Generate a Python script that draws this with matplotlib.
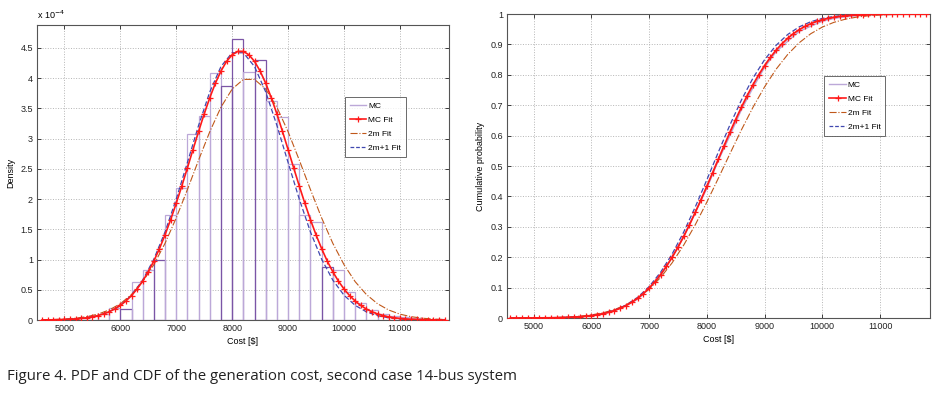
import numpy as np
import matplotlib
matplotlib.use('Agg')
import matplotlib.pyplot as plt
from matplotlib.lines import Line2D

plt.rcParams['font.family'] = ['Liberation Sans', 'DejaVu Sans']

# histogram of MC samples (density, x1e-4), bins of 200 $ starting at 4600
bin_left = np.arange(4600, 11800, 200)
mc_density = [0.005, 0.01, 0.02, 0.04, 0.07, 0.1, 0.2, 0.18, 0.63, 0.83, 1.0, 1.73,
              2.18, 3.07, 3.38, 4.08, 3.87, 4.65, 4.10, 4.30, 3.62, 3.36, 2.58, 1.74,
              1.62, 0.87, 0.82, 0.47, 0.28, 0.17, 0.1, 0.07, 0.05, 0.03, 0.02, 0.01]
dark_bins = [7, 10, 16, 17, 19, 25]

# fitted PDFs (x1e-4)
x_fine = np.arange(4600, 11900, 100)
mc_fit_pdf = [0.0016, 0.0024, 0.0037, 0.0057, 0.0085, 0.0125, 0.0183, 0.0264, 0.0376, 0.0529,
              0.0734, 0.1007, 0.1363, 0.182, 0.240, 0.314, 0.404, 0.513, 0.644, 0.798,
              0.976, 1.181, 1.409, 1.660, 1.931, 2.218, 2.517, 2.820, 3.120, 3.409,
              3.677, 3.916, 4.119, 4.278, 4.387, 4.443, 4.443, 4.387, 4.278, 4.119,
              3.916, 3.677, 3.409, 3.120, 2.820, 2.517, 2.218, 1.931, 1.660, 1.409,
              1.181, 0.976, 0.798, 0.644, 0.513, 0.404, 0.314, 0.240, 0.182, 0.136,
              0.101, 0.073, 0.053, 0.038, 0.026, 0.018, 0.0125, 0.0085, 0.0057, 0.0037,
              0.0024, 0.0016, 0.0010]

x_coarse = np.arange(4600, 11900, 200)
fit_2m_pdf = [0.0037, 0.0077, 0.0155, 0.030, 0.055, 0.097, 0.165, 0.269, 0.422, 0.634,
              0.916, 1.269, 1.689, 2.158, 2.646, 3.115, 3.521, 3.820, 3.980, 3.980,
              3.820, 3.521, 3.115, 2.646, 2.158, 1.689, 1.269, 0.916, 0.634, 0.422,
              0.269, 0.165, 0.097, 0.055, 0.030, 0.0155, 0.0077]
fit_2m1_pdf = [0.0014, 0.0033, 0.0078, 0.0172, 0.0361, 0.0716, 0.135, 0.242, 0.410, 0.660,
               1.007, 1.457, 2.001, 2.606, 3.220, 3.773, 4.193, 4.421, 4.421, 4.193,
               3.773, 3.220, 2.606, 2.001, 1.457, 1.007, 0.660, 0.410, 0.242, 0.135,
               0.0716, 0.0361, 0.0172, 0.0078, 0.0033, 0.0014, 0.0005]

# fitted CDFs
mc_fit_cdf = [0.0, 0.0, 0.0001, 0.0001, 0.0002, 0.0003, 0.0005, 0.0007, 0.0010, 0.0015,
              0.0021, 0.0030, 0.0041, 0.0057, 0.0079, 0.0106, 0.0142, 0.0188, 0.0246, 0.0319,
              0.0408, 0.0516, 0.0647, 0.0801, 0.0982, 0.1190, 0.1429, 0.1698, 0.1997, 0.2326,
              0.2683, 0.3066, 0.3471, 0.3894, 0.4331, 0.4776, 0.5224, 0.5669, 0.6106, 0.6529,
              0.6934, 0.7317, 0.7674, 0.8003, 0.8302, 0.8571, 0.8810, 0.9018, 0.9199, 0.9353,
              0.9484, 0.9592, 0.9681, 0.9754, 0.9812, 0.9858, 0.9894, 0.9921, 0.9943, 0.9959,
              0.9970, 0.9979, 0.9985, 0.9990, 0.9993, 0.9995, 0.9997, 0.9998, 0.9999, 0.9999,
              1.0, 1.0, 1.0]
fit_2m_cdf = [0.0001, 0.0002, 0.0004, 0.0009, 0.0017, 0.0032, 0.0058, 0.0101, 0.0170, 0.0275,
              0.0430, 0.0649, 0.0946, 0.1333, 0.1816, 0.2398, 0.3067, 0.3809, 0.4598, 0.5402,
              0.6191, 0.6932, 0.7602, 0.8184, 0.8667, 0.9054, 0.9351, 0.9570, 0.9725, 0.9830,
              0.9899, 0.9942, 0.9968, 0.9983, 0.9991, 0.9996, 0.9998]
fit_2m1_cdf = [0.0001, 0.0001, 0.0002, 0.0004, 0.0010, 0.0020, 0.0041, 0.0079, 0.0145, 0.0254,
               0.0423, 0.0675, 0.1030, 0.1505, 0.2106, 0.2827, 0.3651, 0.4543, 0.5457, 0.6349,
               0.7173, 0.7894, 0.8495, 0.8970, 0.9325, 0.9577, 0.9746, 0.9855, 0.9921, 0.9959,
               0.9980, 0.9990, 0.9996, 0.9998, 0.9999, 1.0, 1.0]

xticks = [5000, 6000, 7000, 8000, 9000, 10000, 11000]

c_mc = '#bca8d8'
c_mc_dark = '#7b55a6'
c_red = '#ff1a1a'
c_brown = '#c0581a'
c_blue = '#4048b0'

fig = plt.figure(figsize=(9.41, 3.97), dpi=100)
ax1 = fig.add_axes([37 / 941, 1 - 320 / 397, 412 / 941, 295 / 397])
ax2 = fig.add_axes([507 / 941, 1 - 318 / 397, 423 / 941, 304 / 397])


def style(ax):
    ax.set_xticks(xticks)
    ax.tick_params(direction='in', length=3, width=0.6, labelsize=6.5, top=True, right=True,
                   pad=3, colors='#222222')
    ax.grid(True, linestyle=':', color='#b5b5b5', linewidth=0.7)
    for s in ax.spines.values():
        s.set_color('#555555')
        s.set_linewidth(0.8)
    ax.set_xlabel('Cost [$]', fontsize=6.5, labelpad=3)


def add_legend(ax, anchor):
    handles = [Line2D([], [], color=c_mc, lw=1.0),
               Line2D([], [], color=c_red, lw=1.2, marker='+', ms=4, mew=0.9),
               Line2D([], [], color=c_brown, lw=0.8, ls='-.'),
               Line2D([], [], color=c_blue, lw=0.9, ls='--', dashes=(3, 1.5))]
    leg = ax.legend(handles, ['MC', 'MC Fit', '2m Fit', '2m+1 Fit'], loc='upper left',
                    bbox_to_anchor=anchor, fontsize=6, frameon=True, fancybox=False,
                    edgecolor='#444444', handlelength=2.0, borderpad=0.6, labelspacing=0.75,
                    handletextpad=0.2, borderaxespad=0)
    leg.get_frame().set_linewidth(0.7)


# left: PDF
edge_cols = [c_mc_dark if i in dark_bins else c_mc for i in range(len(bin_left))]
ax1.bar(bin_left, mc_density, width=200, align='edge', fill=False, edgecolor=edge_cols,
        linewidth=0.9, zorder=2)
ax1.plot(x_fine, mc_fit_pdf, color=c_red, lw=1.2, marker='+', ms=4, mew=0.9, zorder=4)
ax1.plot(x_coarse, fit_2m_pdf, color=c_brown, lw=0.8, ls='-.', zorder=3)
ax1.plot(x_coarse, fit_2m1_pdf, color=c_blue, lw=0.9, ls='--', dashes=(4, 2), zorder=3)
ax1.set_xlim(4510, 11878)
ax1.set_ylim(0, 4.88)
ax1.set_yticks(np.arange(0, 5.0, 0.5))
ax1.set_yticklabels(['0', '0.5', '1', '1.5', '2', '2.5', '3', '3.5', '4', '4.5'])
style(ax1)
ax1.set_ylabel('Density', fontsize=6.5, labelpad=4)
ax1.text(0, 1.012, r'x 10$^{-4}$', transform=ax1.transAxes, fontsize=6.5, va='bottom', ha='left')
add_legend(ax1, (0.747, 0.755))

# right: CDF (empirical MC curve sits under the fitted one)
mc_cdf = np.cumsum(mc_density) / np.sum(mc_density)
ax2.plot(bin_left + 200, mc_cdf, color=c_mc, lw=1.0, zorder=2)
ax2.plot(x_fine, mc_fit_cdf, color=c_red, lw=1.3, marker='+', ms=4, mew=0.9, zorder=4)
ax2.plot(x_coarse, fit_2m_cdf, color=c_brown, lw=0.8, ls='-.', zorder=3)
ax2.plot(x_coarse, fit_2m1_cdf, color=c_blue, lw=0.9, ls='--', dashes=(4, 2), zorder=3)
ax2.set_xlim(4540, 11865)
ax2.set_ylim(0, 1)
ax2.set_yticks(np.arange(0, 1.01, 0.1))
ax2.set_yticklabels(['0', '0.1', '0.2', '0.3', '0.4', '0.5', '0.6', '0.7', '0.8', '0.9', '1'])
style(ax2)
ax2.set_ylabel('Cumulative probability', fontsize=6.5, labelpad=4)
add_legend(ax2, (0.750, 0.795))

fig.text(7 / 941, 1 - 376 / 397, 'Figure 4. PDF and CDF of the generation cost, second case 14-bus system',
         fontsize=10.8, family=['Open Sans', 'DejaVu Sans'], va='center', ha='left', color='#222222')

fig.savefig('out.png', dpi=100)
